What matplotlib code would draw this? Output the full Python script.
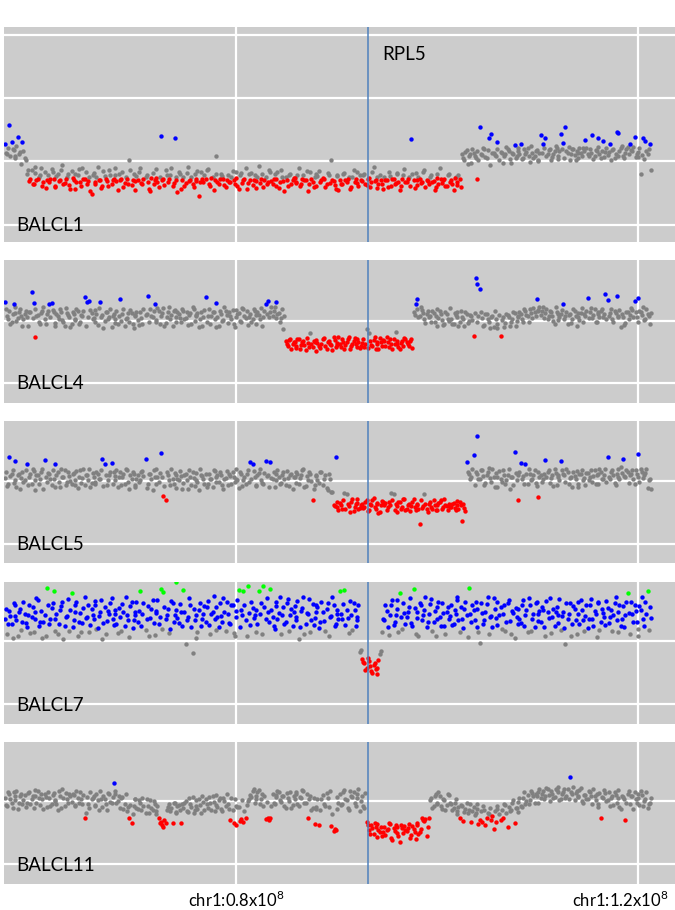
import matplotlib
matplotlib.use("Agg")
import matplotlib.pyplot as plt
import matplotlib.transforms as mtransforms
import numpy as np

plt.rcParams['font.family'] = ['Lato', 'DejaVu Sans']
plt.rcParams['mathtext.fontset'] = 'custom'
plt.rcParams['mathtext.rm'] = 'Lato'

# probe positions on chr1 (units of 0.1 Mb), two interleaved probe sets
probe_pos = [
    570, 572, 574, 577, 579, 580, 583, 585, 587, 590,
    592, 594, 597, 599, 600, 603, 605, 607, 610, 612,
    614, 617, 619, 620, 623, 625, 627, 630, 632, 634,
    637, 639, 640, 643, 645, 647, 650, 652, 654, 657,
    659, 660, 663, 665, 667, 670, 672, 674, 677, 679,
    680, 683, 685, 687, 690, 692, 694, 697, 699, 700,
    703, 705, 707, 710, 712, 714, 717, 719, 720, 723,
    725, 727, 730, 732, 734, 737, 739, 740, 743, 745,
    747, 750, 752, 754, 757, 759, 760, 763, 765, 767,
    770, 772, 774, 777, 779, 780, 783, 785, 787, 790,
    792, 794, 797, 799, 800, 803, 805, 807, 810, 812,
    814, 817, 819, 820, 823, 825, 827, 830, 832, 834,
    837, 839, 840, 843, 845, 847, 850, 852, 854, 857,
    859, 860, 863, 865, 867, 870, 872, 874, 877, 879,
    880, 883, 885, 887, 890, 892, 894, 897, 899, 900,
    903, 905, 907, 910, 912, 914, 917, 919, 920, 923,
    925, 927, 930, 932, 934, 937, 939, 940, 943, 945,
    947, 950, 952, 954, 957, 959, 960, 963, 965, 967,
    970, 972, 974, 977, 979, 980, 983, 985, 987, 990,
    992, 994, 997, 999, 1000, 1003, 1005, 1007, 1010, 1012,
    1014, 1017, 1019, 1020, 1023, 1025, 1027, 1030, 1032, 1034,
    1037, 1039, 1040, 1043, 1045, 1047, 1050, 1052, 1054, 1057,
    1059, 1060, 1063, 1065, 1067, 1070, 1072, 1074, 1077, 1079,
    1080, 1083, 1085, 1087, 1090, 1092, 1094, 1097, 1099, 1100,
    1103, 1105, 1107, 1110, 1112, 1114, 1117, 1119, 1120, 1123,
    1125, 1127, 1130, 1132, 1134, 1137, 1139, 1140, 1143, 1145,
    1147, 1150, 1152, 1154, 1157, 1159, 1160, 1163, 1165, 1167,
    1170, 1172, 1174, 1177, 1179, 1180, 1183, 1185, 1187, 1190,
    1192, 1194, 1197, 1199, 1200, 1203, 1205, 1207, 1210, 1212,
]
probe_pos_b = [
    571, 573, 575, 578, 580, 581, 584, 586, 588, 591,
    593, 595, 598, 600, 601, 604, 606, 608, 611, 613,
    615, 618, 620, 621, 624, 626, 628, 631, 633, 635,
    638, 640, 641, 644, 646, 648, 651, 653, 655, 658,
    660, 661, 664, 666, 668, 671, 673, 675, 678, 680,
    681, 684, 686, 688, 691, 693, 695, 698, 700, 701,
    704, 706, 708, 711, 713, 715, 718, 720, 721, 724,
    726, 728, 731, 733, 735, 738, 740, 741, 744, 746,
    748, 751, 753, 755, 758, 760, 761, 764, 766, 768,
    771, 773, 775, 778, 780, 781, 784, 786, 788, 791,
    793, 795, 798, 800, 801, 804, 806, 808, 811, 813,
    815, 818, 820, 821, 824, 826, 828, 831, 833, 835,
    838, 840, 841, 844, 846, 848, 851, 853, 855, 858,
    860, 861, 864, 866, 868, 871, 873, 875, 878, 880,
    881, 884, 886, 888, 891, 893, 895, 898, 900, 901,
    904, 906, 908, 911, 913, 915, 918, 920, 921, 924,
    926, 928, 931, 933, 935, 938, 940, 941, 944, 946,
    948, 951, 953, 955, 958, 960, 961, 964, 966, 968,
    971, 973, 975, 978, 980, 981, 984, 986, 988, 991,
    993, 995, 998, 1000, 1001, 1004, 1006, 1008, 1011, 1013,
    1015, 1018, 1020, 1021, 1024, 1026, 1028, 1031, 1033, 1035,
    1038, 1040, 1041, 1044, 1046, 1048, 1051, 1053, 1055, 1058,
    1060, 1061, 1064, 1066, 1068, 1071, 1073, 1075, 1078, 1080,
    1081, 1084, 1086, 1088, 1091, 1093, 1095, 1098, 1100, 1101,
    1104, 1106, 1108, 1111, 1113, 1115, 1118, 1120, 1121, 1124,
    1126, 1128, 1131, 1133, 1135, 1138, 1140, 1141, 1144, 1146,
    1148, 1151, 1153, 1155, 1158, 1160, 1161, 1164, 1166, 1168,
    1171, 1173, 1175, 1178, 1180, 1181, 1184, 1186, 1188, 1191,
    1193, 1195, 1198, 1200, 1201, 1204, 1206, 1208, 1211, 1213,
]

# log2 ratio x100 per sample, one value per probe (set a, then set b)
balcl1 = [
    28, 12, 57, 31, 18, 8, 39, 15, 30, 5,
    -20, -31, -14, -35, -9, -28, -22, -38, -17, -30,
    -33, -12, -27, -41, -19, -29, -6, -34, -24, -37,
    -15, -30, -44, -21, -32, -11, -28, -36, -25, -52,
    -18, -33, -8, -29, -39, -23, -31, -13, -35, -27,
    -22, -45, -30, -16, -34, -28, 3, -37, -20, -31,
    -29, -10, -36, -24, -32, -47, -18, -30, -26, -40,
    40, -28, -14, -33, -21, -38, 37, -30, -17, -43,
    -25, -34, -9, -29, -36, -20, -31, -55, -16, -33,
    -28, -12, -38, -24, -30, 8, -35, -19, -27, -41,
    -21, -32, -15, -36, -26, -44, -18, -30, -11, -34,
    -29, -37, -22, -31, -7, -27, -40, -24, -33, -16,
    -35, -20, -28, -42, -13, -31, -25, -38, -19, -30,
    -26, -33, -10, -36, -22, -29, -47, -17, -32, -24,
    -38, -15, -30, -27, -35, -21, 2, -31, -44, -23,
    -29, -36, -18, -32, -25, -40, -13, -28, -34, -22,
    -31, -19, -37, -26, -33, -9, -29, -42, -21, -35,
    -24, -30, -16, -39, -28, -34, -20, -45, -27, -12,
    -32, -25, 35, -30, -18, -37, -27, -33, -14, -29,
    -36, -22, -31, -41, -26, -11, -34, -28, -39, -20,
    -30, -45, -24, -33, -28, 12, 2, 18, 8, -3,
    14, 5, -28, 55, 10, 19, 6, 37, 44, 13,
    8, 30, 15, -2, 11, 20, 4, 13, 26, 9,
    17, 28, 6, 12, 21, -1, 14, 9, 18, 3,
    42, 27, 37, 11, 19, 7, 16, 22, 4, 44,
    29, 55, 14, 3, 20, 10, 17, 6, 13, 21,
    34, 12, 19, 42, 8, 16, 37, 5, 33, 15,
    10, 27, 18, 6, 47, 45, 21, 9, 14, 23,
    28, 16, 39, 11, 7, -19, 37, 33, 12, 27,
]
balcl1_b = [
    14, 22, 9, 19, 6, 24, 11, -4, 17, 3,
    -13, -27, -36, -18, -29, -24, -11, -32, -42, -21,
    -28, -16, -38, -23, -31, -14, -35, -27, -19, -44,
    -26, -20, -33, -12, -39, -28, -17, -31, -46, -22,
    -36, -24, -30, -42, -15, -27, -38, -21, -29, -10,
    -31, -19, -27, -40, -24, -35, -13, -29, -45, -23,
    -17, -34, -28, -21, -43, -26, -36, -12, -32, -24,
    -30, -37, -22, -27, -11, -34, -25, -48, -20, -29,
    -38, -18, -31, -24, -41, -27, -15, -33, -28, -22,
    -14, -35, -26, -45, -19, -32, -28, -23, -37, -30,
    -33, -24, -29, -16, -39, -22, -34, -27, -43, -20,
    -18, -30, -42, -25, -34, -20, -29, -36, -14, -31,
    -27, -39, -16, -33, -24, -46, -29, -21, -35, -26,
    -34, -21, -38, -27, -30, -15, -36, -28, -40, -19,
    -23, -32, -26, -41, -18, -34, -29, -37, -22, -45,
    -36, -20, -30, -27, -43, -24, -33, -17, -38, -29,
    -22, -35, -28, -40, -16, -31, -25, -36, -29, -44,
    -30, -41, -23, -27, -35, -18, -32, -38, -21, -33,
    -27, -38, -20, -42, -29, -25, -34, -16, -40, -31,
    -24, -33, -45, -19, -36, -28, -30, -39, -22, -32,
    -35, -26, -37, -21, -41, 6, 15, -4, 11, 20,
    9, 16, 3, 12, 22, 7, 18, -5, 14, 10,
    19, 2, 13, 8, 23, 16, -3, 11, 6, 21,
    12, 4, 20, 15, 9, 24, 6, 17, 1, 13,
    14, 22, 8, 18, 3, 11, 24, 9, 17, 20,
    6, 16, 23, 11, 19, 2, 14, 22, 8, 17,
    21, 9, 14, 4, 18, 23, 11, 17, 7, 22,
    15, 3, 20, 12, 8, 16, 24, 5, 19, 11,
    18, 23, 7, 15, 21, 10, 4, 16, 20, -14,
]

balcl4 = [
    29, 8, 15, -3, 27, 12, 4, 18, -8, 10,
    6, 14, 45, 28, -27, 9, -5, 16, 2, 11,
    27, 28, 13, -4, 7, 19, 1, -9, 12, 5,
    -6, 10, 3, 15, -2, 8, 38, 29, 32, 12,
    4, 17, -7, 30, 9, -1, 14, 6, -10, 11,
    2, -5, 35, 10, -8, 4, -3, 12, -12, 7,
    1, 13, -6, 9, 40, 18, 5, 27, -2, 15,
    8, 20, -4, 14, 2, -9, 17, 6, 11, -3,
    16, 4, -7, 12, 21, 0, 9, -11, 14, 5,
    37, 7, -5, 13, 3, 28, -8, 10, 1, 15,
    -4, 8, 17, -10, 6, 12, -2, 19, 4, -7,
    11, 3, 16, -6, 9, 20, 5, 27, 32, 14,
    8, 21, 29, 12, 4, -14, -33, -41, -30, -38,
    -35, -44, -29, -39, -32, -47, -36, -20, -42, -34,
    -31, -40, -37, -28, -45, -33, -39, -26, -43, -36,
    -38, -30, -46, -35, -27, -41, -33, -37, -29, -44,
    -36, -42, -13, -20, -39, -31, -45, -34, -28, -40,
    -33, -27, -43, -37, -30, -19, -38, -46, -32, -28,
    -35, -41, -29, 14, 27, 35, 8, 17, 2, 11,
    5, -3, 12, 7, -8, 15, 1, -5, 10, -1,
    3, -6, 9, 14, -2, 6, -9, 11, 0, 7,
    -25, 68, 58, 50, 4, -7, 10, -3, 6, -10,
    2, -12, -25, 5, -4, 9, -8, 3, 12, -1,
    6, 11, -3, 15, 8, 19, 4, 13, 34, 17,
    9, 21, 12, 3, 16, 7, -5, 14, 1, 10,
    27, 8, -6, 11, 2, 15, -9, 6, 12, -3,
    7, 36, 14, 4, 18, -2, 10, 16, 5, 42,
    33, 12, 3, 16, 39, 8, -11, 5, -4, 13,
    9, 17, 32, 6, 36, 14, 21, 2, 11, -6,
]
balcl4_b = [
    18, 3, -6, 11, 21, 0, 14, 7, 2, 16,
    -9, 13, 4, 19, 8, -3, 12, 22, -6, 15,
    5, 17, -8, 10, 2, 14, -3, 20, 9, -11,
    13, 1, 18, -5, 9, 15, -9, 6, 17, 2,
    -3, 10, 20, 5, -12, 14, 2, 18, 8, -4,
    16, 8, -1, 19, 3, 12, 17, -6, 9, 14,
    -7, 4, 18, 11, -2, 8, 15, 1, 20, -5,
    12, -8, 6, 21, 9, 16, -2, 13, 4, 19,
    3, 14, 9, -6, 18, 7, 12, 2, -9, 17,
    -2, 19, 8, 14, -10, 5, 16, 0, 22, 9,
    13, 2, -5, 17, 10, -1, 20, 7, 15, 6,
    -3, 18, 9, 13, 2, -8, 16, 11, 5, 21,
    15, 4, 10, -3, 18, 7, -38, -31, -45, -35,
    -41, -30, -46, -34, -39, -28, -43, -37, -32, -48,
    -36, -44, -29, -41, -34, -38, -47, -31, -39, -27,
    -43, -35, -39, -30, -45, -37, -28, -42, -34, -40,
    -29, -37, -44, -33, -41, -26, -38, -46, -35, -31,
    -40, -35, -29, -45, -38, -32, -43, -36, -41, -30,
    -38, -33, -44, 9, 19, 5, 22, 12, -4, 16,
    8, 15, -2, 18, 4, 11, -7, 14, 2, 20,
    -5, 12, 6, -9, 16, 3, 13, -4, 9, 1,
    12, -2, 7, 14, -8, 10, 3, -12, 8, 15,
    -6, 9, 1, -10, 11, 6, -3, 14, -9, 7,
    14, 3, 18, 9, -2, 12, 20, 7, 15, 22,
    16, 4, 19, 8, 13, -1, 21, 10, 6, 17,
    3, 14, 9, -4, 18, 7, 12, 1, 20, 10,
    15, 4, 20, 9, -3, 13, 6, 19, 11, 2,
    8, 19, -2, 12, 5, 17, 10, -7, 14, 3,
    20, 5, 13, -3, 16, 9, 1, 18, 7, 12,
]

balcl5 = [
    5, -8, 38, 12, -3, 32, 9, -12, 15, 2,
    28, 7, -5, 16, -14, 10, 3, 19, 34, -2,
    11, -6, 4, 27, 14, -9, 6, 18, -1, 8,
    -4, 13, 2, -11, 17, 5, -7, 10, 20, -3,
    7, -2, 12, 4, 35, 28, -6, 9, 29, 15,
    1, -10, 14, 6, -4, 18, -13, 3, 11, -7,
    9, 2, 16, 35, -5, 12, -15, 7, 20, -1,
    45, -24, -30, 10, -6, 4, 13, -11, 2, 8,
    -3, 11, -12, 6, 15, -8, 1, -14, 9, 4,
    12, -5, 3, -9, 16, 7, -2, 10, -13, 5,
    -7, 8, 14, -1, 4, -11, 11, 2, -4, 17,
    30, 27, 6, -8, 13, 1, -5, 32, 9, 30,
    3, -10, 12, 7, -3, 15, -7, 5, 10, -12,
    6, 14, -4, 9, 20, -8, 2, 11, -30, -6,
    8, -3, 15, 4, -11, 12, -18, -38, 39, -42,
    -35, -45, -19, -20, -40, -33, -48, -37, -29, -43,
    -36, -41, -31, -47, -38, -27, -44, -35, -50, -32,
    -39, -46, -34, -19, -20, -37, -49, -33, -41, -28,
    -44, -36, -40, -29, -47, -38, -68, -43, -20, -45,
    -37, -42, -31, -46, -39, -34, -44, -28, -40, -36,
    -41, -35, -47, -38, -33, -64, -43, 30, 12, 6,
    42, 15, 72, 3, 18, -6, 10, 21, -2, 7,
    13, -9, 4, 17, -4, 9, -12, 6, 46, 1,
    -30, 29, 8, 27, -5, 12, 3, 18, -8, -25,
    10, 4, 33, 14, -3, 9, 19, -6, 7, 32,
    11, -2, 15, 5, -10, 8, 16, -4, 12, 2,
    -7, 13, 6, -1, 17, 9, -5, 14, 3, 20,
    39, 4, 18, -3, 11, 7, 22, 35, 6, 14,
    9, 17, -4, 12, 44, 20, 5, 13, -11, 3,
]
balcl5_b = [
    14, -5, 8, 18, 1, -10, 12, 5, -2, 17,
    -7, 11, 20, 2, 9, -4, 15, -12, 6, 13,
    3, 17, -9, 10, -2, 19, 7, -6, 14, 0,
    11, -7, 16, 6, -3, 20, 9, 1, -10, 13,
    -5, 15, 4, 18, -8, 10, 2, 14, -4, 8,
    17, 6, -6, 12, 20, -1, 9, 15, -9, 4,
    -2, 14, 8, -11, 11, 3, 18, -4, 7, 13,
    6, -8, 15, 1, 19, -5, 10, 3, 16, -13,
    10, 2, 17, -7, 5, 13, -2, 20, 8, -5,
    -9, 12, 4, 18, -1, 9, 14, -6, 3, 16,
    11, -4, 7, 20, 1, 15, -8, 6, 12, -2,
    4, 16, -6, 10, 19, -3, 13, 8, -10, 5,
    14, 1, 18, -5, 9, 3, 16, -8, 11, 7,
    -3, 12, 5, 17, -9, 8, 14, 0, -12, 10,
    2, 15, -6, 9, -14, 4, -17, -40, -34, -46,
    -39, -31, -44, -36, -49, -29, -41, -35, -45, -38,
    -43, -33, -48, -37, -30, -42, -36, -51, -39, -34,
    -35, -42, -38, -31, -46, -40, -34, -44, -29, -47,
    -39, -48, -33, -42, -36, -45, -31, -40, -37, -50,
    -33, -44, -39, -47, -35, -30, -42, -38, -46, -41,
    -36, -43, -32, -45, -39, -37, -48, 14, 4, 19,
    -6, 11, 3, 17, 8, -3, 14, 5, 20, -9,
    7, 16, -2, 10, 1, 19, 6, -7, 13, 9,
    15, 4, -5, 11, 20, 2, 9, -3, 14, 6,
    -2, 12, 7, 18, 5, -8, 13, 10, 1, 17,
    9, 19, -4, 6, 14, 3, -9, 11, 18, 5,
    13, 2, 17, 8, -5, 12, 20, 4, 10, -1,
    6, 15, 10, -6, 19, 3, 13, 8, 17, -3,
    11, 4, 18, 7, -2, 14, 9, 20, 1, -13,
]

balcl7 = [
    35, 12, 48, 27, 61, 40, 9, 52, 30, 44,
    22, 57, 38, 15, 46, 66, 31, 5, 42, 84,
    28, 53, 80, 36, 11, 49, 62, 24, 40, 17,
    77, 33, 58, 8, 45, 29, 70, 39, 14, 51,
    36, 64, 21, 47, 3, 55, 32, 43, 68, 26,
    50, 13, 38, 59, 24, 41, 7, 63, 34, 46,
    30, 80, 44, 18, 56, 37, 66, 10, 48, 27,
    83, 78, 35, 52, 20, 61, 42, 94, 29, 47,
    82, -4, 39, 58, -18, 33, 6, 50, 25, 43,
    31, 64, 12, 47, 36, 55, 22, 40, 69, 16,
    44, 28, 57, 9, 38, 82, 50, 79, 33, 88,
    26, 53, 41, 15, 79, 60, 88, 35, 47, 83,
    39, 20, 62, 45, 11, 54, 30, 67, 42, 24,
    56, 34, 4, 48, 71, 27, 43, 14, 59, 37,
    46, 21, 63, 32, 52, 8, 40, 57, 28, 44,
    80, 36, 82, 50, 13, 42, 61, 25, 38, -17,
    -28, -35, -42, -31, -47, -38, -44, -51, -20, 15,
    33, 48, 10, 57, 26, 41, 66, 77, 19, 45,
    38, 55, 29, 83, 12, 47, 61, 34, 50, 22,
    43, 67, 31, 8, 54, 39, 60, 24, 46, 35,
    58, 27, 44, 70, 15, 36, 52, 41, 84, 30,
    49, 63, 22, -2, 45, 33, 59, 11, 40, 68,
    37, 26, 54, 43, 17, 61, 32, 48, 6, 39,
    52, 29, 66, 41, 14, 57, 35, 23, 62, 44,
    31, 50, 9, 46, 69, 38, 24, 55, 42, 18,
    47, -5, 36, 60, 28, 51, 12, 43, 65, 33,
    40, 21, 57, 35, 48, 7, 62, 30, 45, 26,
    53, 38, 16, 60, 33, 47, 25, 56, 41, 77,
    12, 44, 58, 30, 8, 49, 36, 62, 80, 55,
]
balcl7_b = [
    52, 27, 40, 6, 58, 33, 46, 18, 63, 29,
    41, 13, 54, 36, 69, 24, 48, 31, 9, 57,
    35, 61, 17, 44, 28, 56, 4, 39, 67, 50,
    23, 46, 62, 31, 14, 53, 37, 58, 26, 42,
    57, 19, 40, 65, 29, 11, 48, 60, 35, 44,
    27, 53, 16, 46, 70, 33, 56, 21, 42, 62,
    48, 25, 60, 36, 8, 51, 29, 45, 66, 38,
    19, 55, 42, 13, 64, 30, 50, 37, 59, 24,
    46, 33, 68, 22, 52, 41, 15, 61, 36, 56,
    54, 26, 44, 72, 18, 38, 60, 31, 47, 63,
    29, 58, 13, 48, 66, 22, 41, 57, 8, 45,
    62, 37, 50, 27, 44, 12, 55, 68, 30, 49,
    24, 56, 35, 70, 41, 28, 60, 17, 52, 46,
    38, 64, 23, 53, 11, 45, 67, 33, 26, 58,
    55, 30, 47, 16, 61, 39, 71, 24, 50, 35,
    43, 59, 26, 37, 64, 18, 50, 33, 57, -14,
    -32, -45, -27, -39, -50, -34, -42, -29, -15, 36,
    58, 22, 41, 65, 30, 52, 14, 39, 61, 27,
    46, 68, 24, 53, 37, 9, 57, 42, 70, 31,
    59, 17, 48, 36, 63, 25, 45, 12, 55, 40,
    26, 49, 65, 33, 54, 21, 62, 7, 44, 58,
    34, 52, 15, 61, 28, 47, 70, 38, 23, 51,
    62, 41, 19, 57, 30, 66, 11, 45, 53, 28,
    36, 58, 25, 50, 69, 17, 43, 61, 32, 48,
    55, 23, 64, 37, 13, 52, 46, 29, 67, 40,
    21, 60, 44, 8, 56, 33, 63, 27, 49, 16,
    58, 35, 67, 24, 43, 61, 18, 52, 38, 64,
    29, 50, 42, 71, 14, 57, 36, 22, 62, 45,
    63, 31, 48, 19, 56, 70, 25, 44, 18, 37,
]

balcl11 = [
    5, -8, 12, -3, 15, 2, -12, 8, -5, 10,
    -2, 14, 4, -10, 9, 17, -6, 3, 11, -9,
    6, -4, 13, 1, -13, 8, 19, -7, 4, 12,
    -1, 10, -8, 5, 14, -5, -27, 7, -11, 3,
    9, -6, 2, 16, -9, 4, -14, 11, -3, 29,
    12, 1, -10, 7, -4, -16, -27, -34, -8, 3,
    -12, -3, 6, -18, -7, 2, -14, -5, -20, -27,
    -33, -40, -35, -9, -15, -34, -2, -19, -6, -34,
    -11, 1, -17, -4, 7, -13, -8, 3, -19, -1,
    4, -10, -3, 9, -15, -6, 2, -12, 6, -8,
    -5, -30, -14, 3, -37, -9, -28, -33, -27, 1,
    10, 16, -2, 8, 18, 4, -7, -28, -27, -26,
    12, -4, 7, 15, -1, 9, -11, 5, 14, -6,
    3, 11, -8, 6, 16, -3, -26, 9, -10, -36,
    -12, -38, 4, -5, 13, -9, -39, -47, -45, 7,
    11, -4, 18, 2, -13, 9, 15, -7, 5, -15,
    8, -10, -33, -45, -38, -52, -41, -36, -48, -55,
    -40, -46, -34, -58, -43, -37, -50, -64, -42, -39,
    -47, -36, -53, -44, -60, -38, -49, -27, -31, -55,
    -27, 5, -8, 12, -3, 8, -12, 2, -6, 10,
    -4, -11, 3, -15, -27, -8, -17, -2, -13, -33,
    -9, -18, -5, -29, -33, -14, -26, -20, -29, -44,
    -32, -12, -29, -27, -6, -41, -16, -3, -35, -10,
    -1, -8, 6, -4, 10, 2, 13, -3, 8, 15,
    5, 17, 9, 20, 1, 12, 7, 18, 22, 4,
    14, 6, 19, 38, 11, 2, 16, 8, 21, -3,
    10, 3, 15, -5, 8, 12, -9, -27, 6, 13,
    2, -8, 9, 15, -3, 5, -12, 7, -29, 11,
    -4, 8, 14, -2, 6, 17, -7, 3, -11, -2,
]
balcl11_b = [
    -6, 14, 3, -11, 9, 17, -3, 11, 2, -9,
    13, -5, 8, 18, -2, 6, 12, -12, 7, 15,
    -8, 10, 2, -4, 16, -10, 5, 13, -3, 8,
    12, -6, 17, -2, 3, 10, -18, -4, 14, 6,
    -7, 11, -13, 4, 8, -5, 13, -1, 7, 16,
    -3, 9, 5, -12, 11, -9, -6, -20, 4, -10,
    2, -14, -8, 4, -19, -11, 1, -16, -7, -35,
    -38, -29, -13, -4, -10, -2, -17, -7, -14, -5,
    -2, -15, 5, -9, -18, 2, -12, -6, 8, -14,
    -4, 7, -13, -1, 10, -9, 5, -16, 0, 11,
    -12, 6, -35, -8, -9, -31, 2, -15, -6, 4,
    7, 19, 3, 14, -4, 12, 9, -1, -30, -8,
    -3, 10, 16, 2, 8, -7, 13, 1, -10, 9,
    14, -5, 7, 18, -2, 11, 4, -13, 6, -9,
    3, -14, 10, -8, 5, 16, -20, -44, -12, -3,
    -6, 14, 4, -10, 17, 7, -3, 12, 19, 1,
    -8, 13, -38, -51, -43, -35, -57, -46, -40, -49,
    -53, -44, -36, -61, -47, -41, -55, -38, -50, -45,
    -42, -58, -39, -48, -35, -52, -44, -30, -28, -40,
    2, -10, 9, -4, 14, -7, 4, -13, 11, -2,
    -14, -2, -20, -9, -6, -31, -12, -19, -5, -16,
    -22, -12, -36, -16, -8, -38, -19, -11, -24, -15,
    -7, -20, -13, -4, -18, -9, -14, 2, -11, -17,
    6, -9, 14, 1, -5, 17, 8, 11, -2, 19,
    12, 3, 21, 10, 16, 6, 19, 14, 2, 11,
    20, 9, 4, 15, 22, 13, 7, 18, 1, 10,
    4, 16, 9, 19, 2, -4, 13, 7, 18, 1,
    14, 5, -6, 10, 18, -9, 8, 3, -2, 16,
    9, -12, 4, 12, -6, 10, 1, 15, -5, 6,
]

samples = ['BALCL1', 'BALCL4', 'BALCL5', 'BALCL7', 'BALCL11']
sample_vals = [balcl1 + balcl1_b, balcl4 + balcl4_b, balcl5 + balcl5_b,
               balcl7 + balcl7_b, balcl11 + balcl11_b]
loss_cut = [-0.26, -0.22, -0.22, -0.22, -0.24]
gain_cut = [0.25, 0.25, 0.26, 0.20, 0.26]
amp_cut = 0.76
gene_name = 'RPL5'
gene_pos = 93.15
xtick_pos = [80, 120]
xtick_txt = [r'chr1:0.8x10$^8$', r'chr1:1.2x10$^8$']

x = np.array(probe_pos + probe_pos_b) / 10.0

fig = plt.figure(figsize=(6.75, 9.10), dpi=100)
W, H = 675, 910
# panel top/bottom in pixels and y-range of each panel
panel_px = [(27, 242), (260, 403), (421, 563), (582, 724), (742, 884)]
panel_ylim = [(-1.27, 2.12), (-1.32, 0.97), (-1.31, 0.96), (-1.31, 0.94), (-1.31, 0.94)]

axes = []
for i, name in enumerate(samples):
    top, bot = panel_px[i]
    ax = fig.add_axes([4 / W, 1 - bot / H, (W - 4) / W, (bot - top) / H])
    ax.set_facecolor('#cccccc')
    ax.set_xticks(xtick_pos)
    ax.set_yticks([-1, 0, 1, 2])
    ax.set_xlim(56.93, 123.65)
    ax.set_ylim(*panel_ylim[i])
    ax.grid(True, color='white', lw=1.6)
    ax.set_axisbelow(True)
    ax.tick_params(length=0, labelbottom=False, labelleft=False)
    for s in ax.spines.values():
        s.set_visible(False)

    y = np.array(sample_vals[i]) / 100.0
    amp = y >= amp_cut
    gain = (y >= gain_cut[i]) & ~amp
    loss = y <= loss_cut[i]
    norm = ~(amp | gain | loss)
    for m, c in [(norm, '#808080'), (loss, '#ff0000'), (gain, '#0000ff'), (amp, '#00ff00')]:
        ax.scatter(x[m], y[m], s=10, c=c, linewidths=0, zorder=2)

    ax.axvline(gene_pos, color='#4f81bd', lw=1.1, zorder=3)
    ax.text(58.1, -1.1, name, fontsize=13.5, va='baseline', zorder=4)
    axes.append(ax)

axes[0].text(94.5, 1.60, gene_name, fontsize=13.5, va='baseline')

tr = mtransforms.blended_transform_factory(axes[-1].transData, fig.transFigure)
axes[-1].text(xtick_pos[0], 1 - 907 / H, xtick_txt[0], transform=tr,
              ha='center', va='baseline', fontsize=12)
fig.text(668 / W, 1 - 907 / H, xtick_txt[1], ha='right', va='baseline', fontsize=12)

fig.savefig('out.png', dpi=100)
